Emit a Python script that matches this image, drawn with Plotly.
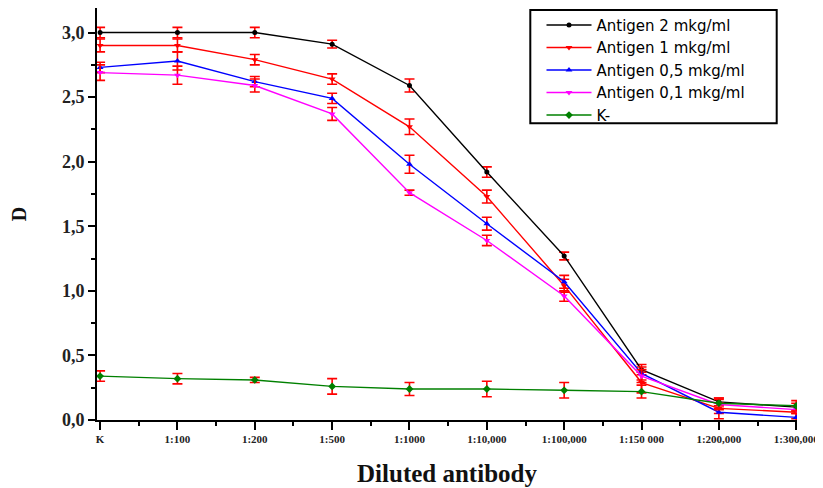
import plotly.graph_objects as go

categories = ["K", "1:100", "1:200", "1:500", "1:1000", "1:10,000", "1:100,000",
              "1:150 000", "1:200,000", "1:300,000"]

antigen_2 = [3.00, 3.00, 3.00, 2.91, 2.59, 1.92, 1.27, 0.39, 0.14, 0.10]
antigen_1 = [2.90, 2.90, 2.79, 2.64, 2.27, 1.73, 1.04, 0.29, 0.09, 0.06]
antigen_05 = [2.73, 2.78, 2.62, 2.49, 1.98, 1.52, 1.07, 0.36, 0.06, 0.02]
antigen_01 = [2.69, 2.67, 2.59, 2.37, 1.76, 1.39, 0.96, 0.34, 0.12, 0.08]
k_minus = [0.34, 0.32, 0.31, 0.26, 0.24, 0.24, 0.23, 0.22, 0.13, 0.11]

err_2 = [0.04, 0.04, 0.04, 0.03, 0.05, 0.04, 0.03, 0.04, 0.03, 0.03]
err_1 = [0.05, 0.05, 0.04, 0.04, 0.06, 0.05, 0.05, 0.08, 0.04, 0.05]
err_05 = [0.04, 0.07, 0.04, 0.04, 0.07, 0.05, 0.05, 0.05, 0.05, 0.03]
err_01 = [0.06, 0.07, 0.05, 0.05, 0.02, 0.04, 0.04, 0.05, 0.04, 0.03]
err_k = [0.04, 0.04, 0.02, 0.06, 0.05, 0.06, 0.06, 0.05, 0.04, 0.04]

series_names = ["Antigen 2 mkg/ml", "Antigen 1 mkg/ml", "Antigen 0,5 mkg/ml",
                "Antigen 0,1 mkg/ml", "K-"]

y_tickvals = [0.0, 0.5, 1.0, 1.5, 2.0, 2.5, 3.0]
y_ticktext = ["0,0", "0,5", "1,0", "1,5", "2,0", "2,5", "3,0"]

x = list(range(len(categories)))

styles = [
    ("#000000", "circle", 5),
    ("#ff0000", "triangle-down", 6),
    ("#0000ff", "triangle-up", 6),
    ("#ff00ff", "triangle-down", 6),
    ("#008000", "diamond", 6),
]
data = [antigen_2, antigen_1, antigen_05, antigen_01, k_minus]
errs = [err_2, err_1, err_05, err_01, err_k]

fig = go.Figure()
for name, ys, es, (col, sym, sz) in zip(series_names, data, errs, styles):
    fig.add_trace(go.Scatter(
        x=x, y=ys, name=name, mode="lines+markers",
        line=dict(color=col, width=1.4),
        marker=dict(color=col, symbol=sym, size=sz),
        error_y=dict(type="data", array=es, color="#ff0000", thickness=1.6, width=5),
    ))

# legend frame (drawn as a shape so it can be as wide as the original box)
fig.add_shape(type="rect", xref="paper", yref="paper",
              x0=0.619, x1=0.971, y0=0.72, y1=0.995,
              line=dict(color="black", width=2), fillcolor="white", layer="below")

fig.update_layout(
    width=815, height=480,
    margin=dict(l=89, r=26, t=0, b=68),
    plot_bgcolor="white", paper_bgcolor="white",
    showlegend=True,
    legend=dict(
        x=0.635, y=0.998, xanchor="left", yanchor="top",
        borderwidth=0, bgcolor="rgba(0,0,0,0)",
        itemwidth=45,
        font=dict(family="DejaVu Sans, Verdana", size=15, color="#000000"),
    ),
    xaxis=dict(
        range=[-0.04, 9.01],
        tickmode="array", tickvals=x, ticktext=categories,
        showgrid=False, zeroline=False,
        showline=True, linecolor="black", linewidth=2,
        ticks="outside", ticklen=8, tickwidth=2, tickcolor="black",
        tickfont=dict(family="Liberation Serif, Times New Roman", size=11, color="#222", weight="bold"),
        minor=dict(tickmode="array", tickvals=[i + 0.5 for i in range(9)],
                   ticks="outside", ticklen=4, tickwidth=1.5, tickcolor="black"),
        title=dict(text="Diluted antibody", standoff=20,
                   font=dict(family="Liberation Serif, Times New Roman", size=25, color="#111", weight="bold")),
    ),
    yaxis=dict(
        range=[0, 3.19],
        tickmode="array", tickvals=y_tickvals, ticktext=y_ticktext,
        showgrid=False, zeroline=False,
        showline=True, linecolor="black", linewidth=2,
        ticks="outside", ticklen=7, tickwidth=2, tickcolor="black",
        tickfont=dict(family="Liberation Serif, Times New Roman", size=18, color="#222", weight="bold"),
        minor=dict(tickmode="array", tickvals=[0.25, 0.75, 1.25, 1.75, 2.25, 2.75],
                   ticks="outside", ticklen=4, tickwidth=1.5, tickcolor="black"),
        title=dict(text="D", standoff=34,
                   font=dict(family="Liberation Serif, Times New Roman", size=20, color="#111", weight="bold")),
    ),
)

fig.write_html("out.html")
